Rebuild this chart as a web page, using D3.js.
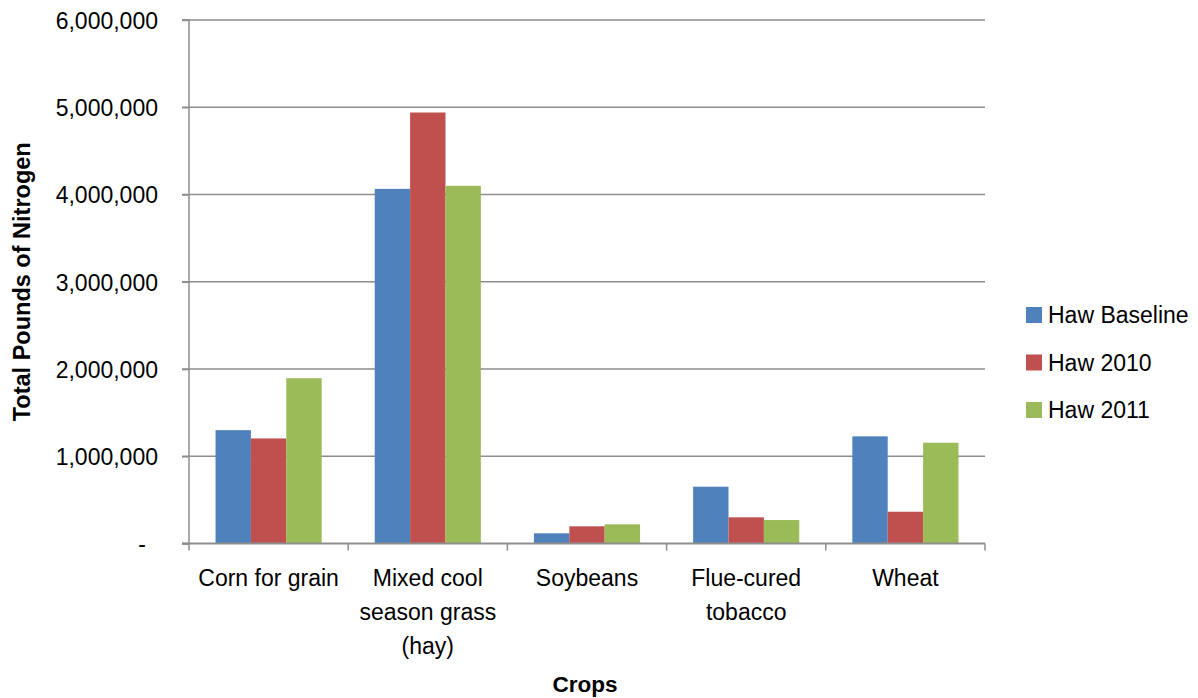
<!DOCTYPE html>
<html>
<head>
<meta charset="utf-8">
<script src="https://cdn.jsdelivr.net/npm/d3@7"></script>
<style>
  html, body { margin: 0; padding: 0; background: #fff; }
  svg { display: block; font-family: "Liberation Sans", Arial, sans-serif; }
</style>
</head>
<body>
<svg id="chart" width="1198" height="698"></svg>
<script>
const categories = ["Corn for grain", "Mixed cool season grass (hay)", "Soybeans", "Flue-cured tobacco", "Wheat"];
const categoryLines = [["Corn for grain"], ["Mixed cool", "season grass", "(hay)"], ["Soybeans"], ["Flue-cured", "tobacco"], ["Wheat"]];
const seriesNames = ["Haw Baseline", "Haw 2010", "Haw 2011"];
const hawBaseline = [1300000, 4065000, 118000, 652000, 1229000];
const haw2010 = [1205000, 4940000, 198000, 301000, 365000];
const haw2011 = [1895000, 4100000, 221000, 270000, 1156000];
const seriesColors = ["#4F81BD", "#C0504D", "#9BBB59"];
const yTicks = [0, 1000000, 2000000, 3000000, 4000000, 5000000, 6000000];

const seriesValues = [hawBaseline, haw2010, haw2011];
const svg = d3.select("#chart");
const m = { left: 189, right: 985, top: 20, bottom: 543.6 };
const fontSize = 23;
const gridColor = "#8e8e8e";

const x = d3.scaleBand().domain(categories).range([m.left, m.right]).paddingInner(0).paddingOuter(0);
const x1 = d3.scaleBand().domain(seriesNames).range([0, x.bandwidth()]).paddingOuter(0.75).paddingInner(0);
const y = d3.scaleLinear().domain([0, 6000000]).range([m.bottom, m.top]);

// gridlines
svg.append("g").selectAll("line").data(yTicks.slice(1)).join("line")
  .attr("x1", m.left - 7).attr("x2", m.right)
  .attr("y1", d => y(d)).attr("y2", d => y(d))
  .attr("stroke", gridColor).attr("stroke-width", 1.5);

// bars
const groups = svg.append("g").selectAll("g").data(categories).join("g")
  .attr("transform", c => `translate(${x(c)},0)`);
groups.selectAll("rect").data((c, i) => seriesNames.map((s, j) => ({ s, v: seriesValues[j][i], j })))
  .join("rect")
  .attr("x", d => x1(d.s))
  .attr("width", x1.bandwidth())
  .attr("y", d => y(d.v))
  .attr("height", d => y(0) - y(d.v))
  .attr("fill", d => seriesColors[d.j]);

// y axis
const yAxis = d3.axisLeft(y).tickValues(yTicks).tickSize(7).tickPadding(24)
  .tickFormat(d => d === 0 ? "-" : d3.format(",")(d));
const gy = svg.append("g").attr("transform", `translate(${m.left},0)`).call(yAxis);
gy.select(".domain").attr("stroke", gridColor).attr("stroke-width", 1.5).attr("d", `M-7,${m.top}H0V${m.bottom}H-7`);
gy.selectAll(".tick line").attr("stroke", gridColor).attr("stroke-width", 1.5);
gy.selectAll(".tick text").attr("font-size", fontSize).attr("fill", "#000")
  .attr("font-family", "Liberation Sans, Arial, sans-serif")
  .attr("dy", "0.36em");
gy.selectAll(".tick").filter(d => d === 0).select("text").attr("dx", "-12");

// x axis
const gx = svg.append("g").attr("transform", `translate(0,${m.bottom})`);
gx.append("line").attr("x1", m.left - 7).attr("x2", m.right).attr("y1", 0).attr("y2", 0)
  .attr("stroke", gridColor).attr("stroke-width", 2);
const boundaries = categories.map(c => x(c)).concat([x.range()[1]]);
gx.selectAll("line.tk").data(boundaries).join("line").attr("class", "tk")
  .attr("x1", d => d).attr("x2", d => d).attr("y1", 0).attr("y2", 7)
  .attr("stroke", gridColor).attr("stroke-width", 1.5);
const labels = gx.selectAll("text.cat").data(categories).join("text").attr("class", "cat")
  .attr("text-anchor", "middle").attr("font-size", fontSize).attr("fill", "#000");
labels.each(function (c, i) {
  const t = d3.select(this);
  categoryLines[i].forEach((line, k) => {
    t.append("tspan").attr("x", x(c) + x.bandwidth() / 2).attr("y", 42 + k * 34).text(line);
  });
});

// axis titles
svg.append("text").attr("x", (m.left + m.right) / 2 - 2).attr("y", 692)
  .attr("text-anchor", "middle").attr("font-size", 22.5).attr("font-weight", "bold").text("Crops");
svg.append("text").attr("transform", `translate(30,${(m.top + m.bottom) / 2}) rotate(-90)`)
  .attr("text-anchor", "middle").attr("font-size", 23.5).attr("font-weight", "bold").text("Total Pounds of Nitrogen");

// legend
const legend = svg.append("g").selectAll("g").data(seriesNames).join("g")
  .attr("transform", (d, i) => `translate(1026,${315 + i * 47.5})`);
legend.append("rect").attr("x", 0).attr("y", -8).attr("width", 16).attr("height", 16)
  .attr("fill", (d, i) => seriesColors[i]);
legend.append("text").attr("x", 22).attr("y", 0).attr("dy", "0.36em")
  .attr("font-size", fontSize).attr("fill", "#000").text(d => d);
</script>
</body>
</html>
